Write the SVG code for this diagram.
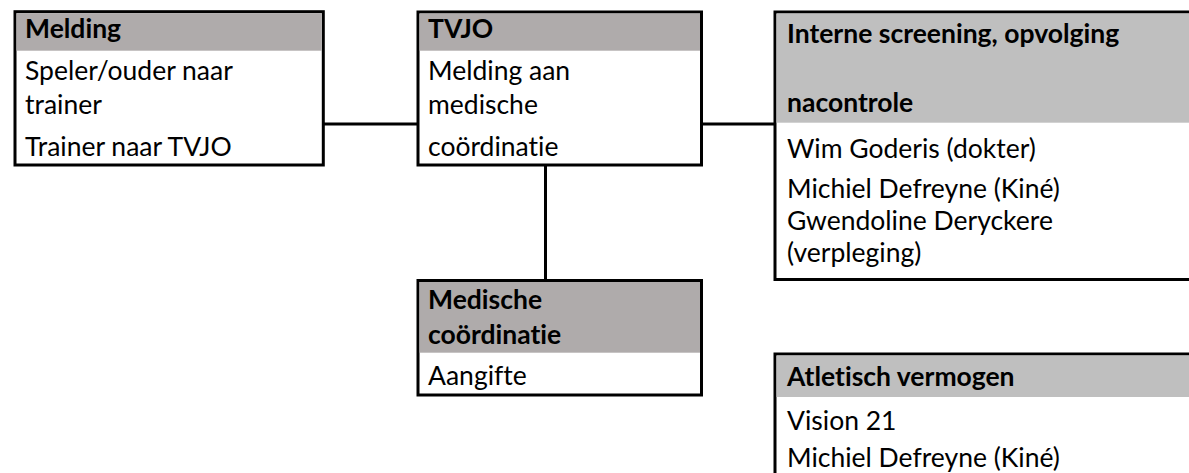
<svg xmlns="http://www.w3.org/2000/svg" width="1189" height="473" viewBox="0 0 1189 473">
<style>
.box{fill:#fff;stroke:#000;stroke-width:3}
.hdA{fill:#AFABAB}
.hdB{fill:#BFBFBF}
.t{font-family:Lato,"Open Sans","Liberation Sans",sans-serif;font-size:26.5px;fill:#000;font-variant-ligatures:none}
.b{font-weight:bold}
.con{stroke:#000;stroke-width:3;fill:none}
</style>
<rect width="1189" height="473" fill="#fff"/>
<g id="connectors">
<line class="con" x1="323" y1="124" x2="418" y2="124"/>
<line class="con" x1="701.5" y1="124" x2="775" y2="124"/>
<line class="con" x1="545.5" y1="165" x2="545.5" y2="280.5"/>
</g>
<g id="melding">
<rect class="box" x="15" y="11.7" width="308.3" height="153.3"/>
<rect class="hdA" x="16.5" y="13.2" width="305.3" height="37.5"/>
<text class="t b" x="25" y="38">Melding</text>
<text class="t" x="25" y="80">Speler/ouder naar</text>
<text class="t" x="25" y="114">trainer</text>
<text class="t" x="25" y="156">Trainer naar TVJO</text>
</g>
<g id="tvjo">
<rect class="box" x="418" y="12" width="283.5" height="153"/>
<rect class="hdA" x="419.5" y="13.5" width="280.5" height="37.2"/>
<text class="t b" x="428" y="38">TVJO</text>
<text class="t" x="428" y="80">Melding aan</text>
<text class="t" x="428" y="114">medische</text>
<text class="t" x="428" y="156">coördinatie</text>
</g>
<g id="medische">
<rect class="box" x="418" y="280.5" width="283.5" height="114.5"/>
<rect class="hdA" x="419.5" y="282" width="280.5" height="70.7"/>
<text class="t b" x="428" y="309">Medische</text>
<text class="t b" x="428" y="344">coördinatie</text>
<text class="t" x="428" y="385">Aangifte</text>
</g>
<g id="interne">
<rect class="box" x="775" y="12" width="430" height="267.5"/>
<rect class="hdB" x="776.5" y="13.5" width="430" height="109.2"/>
<text class="t b" x="787" y="43">Interne screening, opvolging</text>
<text class="t b" x="787" y="112">nacontrole</text>
<text class="t" x="787" y="158">Wim Goderis (dokter)</text>
<text class="t" x="787" y="198">Michiel Defreyne (Kiné)</text>
<text class="t" x="787" y="230">Gwendoline Deryckere</text>
<text class="t" x="787" y="262">(verpleging)</text>
</g>
<g id="atletisch">
<rect class="box" x="775" y="354" width="430" height="140"/>
<rect class="hdB" x="776.5" y="355.5" width="430" height="41.5"/>
<text class="t b" x="787" y="386">Atletisch vermogen</text>
<text class="t" x="787" y="430">Vision 21</text>
<text class="t" x="787" y="467">Michiel Defreyne (Kiné)</text>
</g>
</svg>
